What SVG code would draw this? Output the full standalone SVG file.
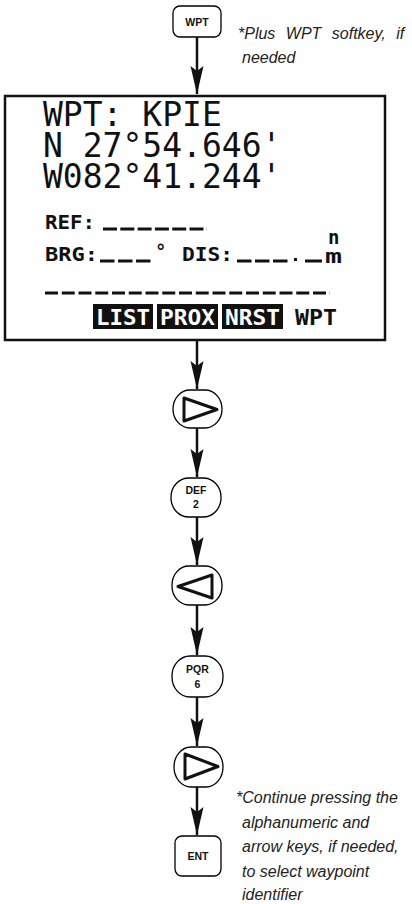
<svg xmlns="http://www.w3.org/2000/svg" width="412" height="904" viewBox="0 0 412 904">
<style>
.key{fill:#fff;stroke:#000;stroke-width:1.3}
.klbl{font-family:"Liberation Sans",Arial,sans-serif;font-weight:bold;font-size:10.5px;text-anchor:middle;fill:#111}
.note{font-family:"Liberation Sans",Arial,sans-serif;font-style:italic;font-size:16px;fill:#222}
.lcd{font-family:"DejaVu Sans Mono","Liberation Mono",monospace;font-size:33px;fill:#111}
.lcds{font-family:"DejaVu Sans Mono","Liberation Mono",monospace;font-weight:bold;font-size:19px;fill:#111}
.sk{font-family:"DejaVu Sans Mono","Liberation Mono",monospace;font-weight:bold;font-size:22px}
.tri{fill:#fff;stroke:#111;stroke-width:3;stroke-linejoin:round}
.conn{stroke:#111;stroke-width:2.5;fill:none;marker-end:url(#ah)}
.dash{stroke:#111;stroke-width:3;fill:none}
</style>
<defs>
<marker id="ah" markerUnits="userSpaceOnUse" markerWidth="30" markerHeight="14" viewBox="-28 -7 30 14" refX="0" refY="0" orient="auto">
<path d="M0,0 L-28,-6.5 L-23,0 L-28,6.5 Z" fill="#111"/>
</marker>
</defs>

<g id="connectors">
<line class="conn" x1="197" y1="37" x2="197" y2="94"/>
<line class="conn" x1="197" y1="341" x2="197" y2="389"/>
<line class="conn" x1="197" y1="428" x2="197" y2="477"/>
<line class="conn" x1="197" y1="517" x2="197" y2="565"/>
<line class="conn" x1="197" y1="605" x2="197" y2="655"/>
<line class="conn" x1="197" y1="697" x2="197" y2="746"/>
<line class="conn" x1="197" y1="787" x2="197" y2="835"/>
</g>

<g id="key-wpt">
<rect class="key" x="173" y="6" width="48" height="31" rx="7"/>
<text class="klbl" x="197" y="26">WPT</text>
</g>
<g id="note-plus">
<text class="note" x="238" y="39" word-spacing="6">*Plus WPT softkey, if</text>
<text class="note" x="242" y="63">needed</text>
</g>

<g id="screen">
<rect x="5" y="96" width="380" height="244" fill="#fff" stroke="#111" stroke-width="2.5"/>
<text class="lcd" x="43" y="126">WPT: KPIE</text>
<text class="lcd" x="43" y="157">N 27°54.646'</text>
<text class="lcd" x="43" y="188">W082°41.244'</text>
<text class="lcds" x="45" y="229" textLength="50" lengthAdjust="spacingAndGlyphs">REF:</text>
<line class="dash" x1="103" y1="229" x2="207" y2="229" stroke-dasharray="14 3.3"/>
<text class="lcds" x="45" y="261" textLength="53" lengthAdjust="spacingAndGlyphs">BRG:</text>
<line class="dash" x1="100" y1="261" x2="151" y2="261" stroke-dasharray="14.5 3.5"/>
<text class="lcds" x="155" y="258" font-size="15">°</text>
<text class="lcds" x="182" y="261" textLength="51" lengthAdjust="spacingAndGlyphs">DIS:</text>
<line class="dash" x1="237" y1="261" x2="290" y2="261" stroke-dasharray="14.5 3.5"/>
<rect x="294" y="258" width="3" height="3" fill="#111"/>
<line class="dash" x1="305" y1="261" x2="322" y2="261"/>
<text class="lcds" x="328" y="244" font-size="10">n</text>
<text class="lcds" x="325" y="263" font-size="13" textLength="17" lengthAdjust="spacingAndGlyphs">m</text>
<line class="dash" x1="45" y1="293" x2="330" y2="293" stroke-width="3.5" stroke-dasharray="13 3.75"/>
<rect x="93" y="304" width="60" height="25" fill="#111"/>
<text class="sk" x="96" y="325" fill="#fff" textLength="54" lengthAdjust="spacingAndGlyphs">LIST</text>
<rect x="157" y="304" width="61" height="25" fill="#111"/>
<text class="sk" x="160" y="325" fill="#fff" textLength="55" lengthAdjust="spacingAndGlyphs">PROX</text>
<rect x="222" y="304" width="61" height="25" fill="#111"/>
<text class="sk" x="225" y="325" fill="#fff" textLength="55" lengthAdjust="spacingAndGlyphs">NRST</text>
<text class="sk" x="295" y="325" fill="#111" textLength="42" lengthAdjust="spacingAndGlyphs">WPT</text>
</g>

<g id="key-right-1">
<rect class="key" x="173" y="390" width="49" height="38" rx="17" ry="19"/>
<polygon class="tri" points="184,398 184,421 217,409.5"/>
</g>

<g id="key-def2">
<rect class="key" x="171" y="478" width="50" height="39" rx="18" ry="19"/>
<text class="klbl" x="196" y="494">DEF</text>
<text class="klbl" x="196" y="508">2</text>
</g>

<g id="key-left">
<rect class="key" x="172" y="566" width="50" height="39" rx="17" ry="19"/>
<polygon class="tri" points="212,575 212,598 178,586.5"/>
</g>

<g id="key-pqr6">
<rect class="key" x="172" y="656" width="51" height="41" rx="18" ry="20"/>
<text class="klbl" x="197.5" y="673">PQR</text>
<text class="klbl" x="197.5" y="688">6</text>
</g>

<g id="key-right-2">
<rect class="key" x="174" y="747" width="49" height="40" rx="17" ry="20"/>
<polygon class="tri" points="185,754 185,779 218,766.5"/>
</g>

<g id="key-ent">
<rect class="key" x="175" y="836" width="46" height="40" rx="7"/>
<text class="klbl" x="198" y="860">ENT</text>
</g>

<g id="note-continue">
<text class="note" x="236" y="803">*Continue pressing the</text>
<text class="note" x="242" y="828">alphanumeric and</text>
<text class="note" x="242" y="852">arrow keys, if needed,</text>
<text class="note" x="242" y="877">to select waypoint</text>
<text class="note" x="242" y="900">identifier</text>
</g>
</svg>
